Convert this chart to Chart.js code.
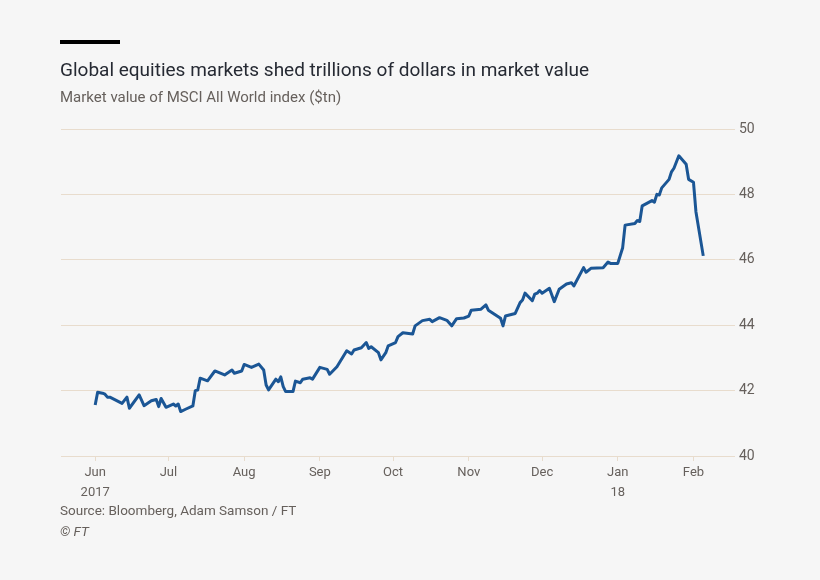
<!DOCTYPE html>
<html>
<head>
<meta charset="utf-8">
<script src="https://cdn.jsdelivr.net/npm/chart.js@4"></script>
<style>
  html, body { margin: 0; padding: 0; background: #f6f6f6; }
  body { width: 820px; height: 580px; position: relative; overflow: hidden; font-family: Roboto, "Noto Sans", sans-serif; }
  #bar { position: absolute; left: 60px; top: 40px; width: 60px; height: 4px; background: #000; }
  #title { position: absolute; left: 60px; top: 58px; font-size: 19px; color: #262a33; white-space: nowrap; }
  #subtitle { position: absolute; left: 60px; top: 88px; font-size: 15px; color: #66605c; white-space: nowrap; }
  #source { position: absolute; left: 60px; top: 502px; font-size: 13.5px; color: #66605c; white-space: nowrap; }
  #copy { position: absolute; left: 60px; top: 523px; font-size: 13.5px; color: #66605c; font-style: italic; white-space: nowrap; }
  #wrap { position: absolute; left: 0; top: 0; width: 820px; height: 580px; }
</style>
</head>
<body>
<div id="wrap"><canvas id="c"></canvas></div>
<div id="bar"></div>
<div id="title">Global equities markets shed trillions of dollars in market value</div>
<div id="subtitle">Market value of MSCI All World index ($tn)</div>
<div id="source">Source: Bloomberg, Adam Samson / FT</div>
<div id="copy">© FT</div>
<script>
// Dates of observations
const dates = [
  '2017-06-01','2017-06-02','2017-06-04','2017-06-05','2017-06-06','2017-06-07','2017-06-12','2017-06-14','2017-06-15','2017-06-19',
  '2017-06-21','2017-06-24','2017-06-26','2017-06-27','2017-06-28','2017-06-30','2017-07-03','2017-07-04','2017-07-05','2017-07-06',
  '2017-07-08','2017-07-11','2017-07-12','2017-07-13','2017-07-14','2017-07-17','2017-07-20','2017-07-24','2017-07-27','2017-07-28',
  '2017-07-31','2017-08-01','2017-08-04','2017-08-07','2017-08-09','2017-08-10','2017-08-11','2017-08-14','2017-08-15','2017-08-16',
  '2017-08-17','2017-08-18','2017-08-21','2017-08-22','2017-08-24','2017-08-25','2017-08-28','2017-08-29','2017-09-01','2017-09-04',
  '2017-09-05','2017-09-08','2017-09-12','2017-09-14','2017-09-15','2017-09-18','2017-09-20','2017-09-21','2017-09-22','2017-09-25',
  '2017-09-26','2017-09-28','2017-09-29','2017-10-02','2017-10-03','2017-10-05','2017-10-09','2017-10-10','2017-10-13','2017-10-16',
  '2017-10-17','2017-10-20','2017-10-23','2017-10-25','2017-10-27','2017-10-30','2017-11-01','2017-11-02','2017-11-06','2017-11-08',
  '2017-11-09','2017-11-14','2017-11-15','2017-11-16','2017-11-20','2017-11-22','2017-11-23','2017-11-24','2017-11-27','2017-11-28',
  '2017-11-29','2017-11-30','2017-12-01','2017-12-04','2017-12-06','2017-12-08','2017-12-11','2017-12-13','2017-12-14','2017-12-18',
  '2017-12-19','2017-12-21','2017-12-26','2017-12-28','2017-12-29','2018-01-01','2018-01-03','2018-01-04','2018-01-08','2018-01-09',
  '2018-01-10','2018-01-11','2018-01-15','2018-01-16','2018-01-17','2018-01-18','2018-01-19','2018-01-22','2018-01-23','2018-01-24',
  '2018-01-26','2018-01-29','2018-01-30','2018-02-01','2018-02-02','2018-02-05'
];
// Market value, $tn
const marketValue = [
  41.56,41.95,41.92,41.89,41.80,41.80,41.61,41.80,41.46,41.87,
  41.54,41.69,41.73,41.51,41.76,41.49,41.59,41.53,41.59,41.36,
  41.43,41.53,42.00,42.02,42.38,42.30,42.60,42.48,42.63,42.53,
  42.60,42.80,42.71,42.81,42.63,42.17,42.02,42.35,42.27,42.42,
  42.12,41.97,41.97,42.29,42.24,42.35,42.39,42.35,42.71,42.65,
  42.50,42.73,43.22,43.12,43.24,43.31,43.47,43.29,43.34,43.16,
  42.94,43.16,43.37,43.47,43.65,43.77,43.73,43.98,44.14,44.18,
  44.11,44.23,44.15,43.98,44.20,44.22,44.28,44.46,44.49,44.62,
  44.46,44.21,43.98,44.28,44.36,44.69,44.77,44.98,44.75,44.95,
  44.98,45.06,44.98,45.13,44.72,45.10,45.26,45.30,45.20,45.76,
  45.62,45.74,45.76,45.93,45.89,45.89,46.37,47.06,47.11,47.20,
  47.17,47.65,47.81,47.76,48.00,47.98,48.20,48.46,48.69,48.80,
  49.18,48.92,48.46,48.37,47.47,46.12
];
// X-axis tick positions (month starts) and their labels
const tickDates = ['2017-06-01','2017-07-01','2017-08-01','2017-09-01','2017-10-01','2017-11-01','2017-12-01','2018-01-01','2018-02-01'];
const tickLabels = [['Jun','2017'],['Jul'],['Aug'],['Sep'],['Oct'],['Nov'],['Dec'],['Jan','18'],['Feb']];
const yTicks = [40, 42, 44, 46, 48, 50];
const axisStart = '2017-05-18';
const axisEnd = '2018-02-18';

const DAY = 86400000;
const origin = Date.parse('2017-06-01T00:00:00Z');
const toDay = s => (Date.parse(s + 'T00:00:00Z') - origin) / DAY;

const points = dates.map((d, i) => ({ x: toDay(d), y: marketValue[i] }));
const tickVals = tickDates.map(toDay);

const grid = '#e8dccd';
const textGrey = '#66605c';

new Chart(document.getElementById('c'), {
  type: 'line',
  data: {
    datasets: [{
      data: points,
      borderColor: '#1b5695',
      borderWidth: 3,
      pointRadius: 0,
      tension: 0,
      borderJoinStyle: 'round',
      fill: false
    }]
  },
  options: {
    responsive: true,
    maintainAspectRatio: false,
    animation: false,
    events: [],
    layout: { padding: { left: 61, top: 129, right: 0, bottom: 0 } },
    plugins: { legend: { display: false }, tooltip: { enabled: false } },
    scales: {
      x: {
        type: 'linear',
        min: toDay(axisStart),
        max: toDay(axisEnd),
        afterBuildTicks: s => { s.ticks = tickVals.map(v => ({ value: v })); },
        afterFit: s => { s.height = 124; },
        grid: { drawOnChartArea: false, drawTicks: true, tickLength: 5, color: grid },
        border: { display: false },
        ticks: {
          autoSkip: false, maxRotation: 0, padding: 2,
          color: textGrey,
          font: { family: 'Roboto', size: 13, lineHeight: 1.55 },
          callback: (v) => { const i = tickVals.indexOf(v); return i >= 0 ? tickLabels[i] : ''; }
        }
      },
      y: {
        position: 'right',
        min: 40, max: 50,
        afterBuildTicks: s => { s.ticks = yTicks.map(v => ({ value: v })); },
        afterFit: s => { s.width = 85; },
        grid: { color: grid, drawTicks: false, lineWidth: 1 },
        border: { display: false },
        ticks: { padding: 4, color: textGrey, font: { family: 'Roboto', size: 14 } }
      }
    }
  }
});
</script>
</body>
</html>
